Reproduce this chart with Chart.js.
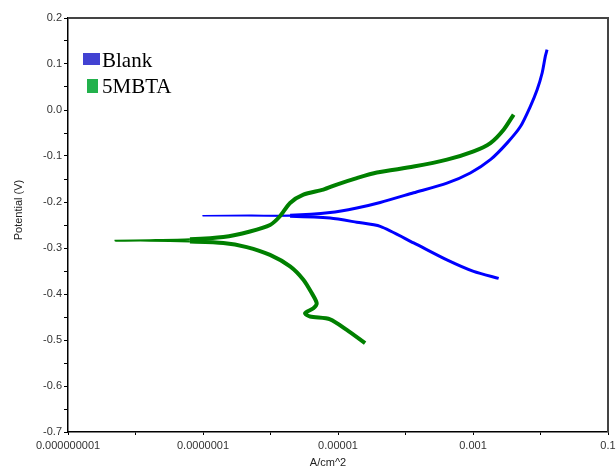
<!DOCTYPE html>
<html>
<head>
<meta charset="utf-8">
<script src="https://cdn.jsdelivr.net/npm/chart.js@4/dist/chart.umd.min.js"></script>
<style>
  html, body { margin: 0; padding: 0; background: #fff; }
  #wrap { width: 616px; height: 470px; position: relative; }
</style>
</head>
<body>
<div id="wrap"><canvas id="c" width="616" height="470"></canvas></div>
<script>
// Polarisation curves: current density (A/cm^2) vs potential (V)
const seriesNames = ['Blank', '5MBTA'];

// Blank: cathodic end -> corrosion potential -> anodic end
const blankCurrent = [2.40e-3, 1.02e-3, 4.11e-4, 1.32e-4, 4.22e-5, 1.90e-5, 7.64e-6, 1.95e-6, 4.0e-7, 1.0e-7,
                      4.97e-7, 1.95e-6, 7.64e-6, 1.90e-5, 4.22e-5, 1.32e-4, 4.11e-4, 9.12e-4, 1.81e-3, 3.19e-3,
                      5.04e-3, 7.08e-3, 8.91e-3, 1.06e-2, 1.18e-2, 1.25e-2];
const blankPotential = [-0.366, -0.351, -0.326, -0.289, -0.253, -0.244, -0.235, -0.231, -0.230, -0.230,
                        -0.229, -0.229, -0.223, -0.213, -0.201, -0.180, -0.159, -0.137, -0.108, -0.072,
                        -0.036, 0.008, 0.044, 0.081, 0.117, 0.131];

// 5MBTA: cathodic end -> corrosion potential -> anodic end
const mbtaCurrent = [2.52e-5, 1.35e-5, 7.64e-6, 3.85e-6, 3.25e-6, 4.32e-6, 4.84e-6, 4.08e-6, 3.07e-6, 1.95e-6,
                     9.84e-7, 4.44e-7, 2.00e-7, 6.40e-8, 1.63e-8, 5.05e-9, 1.63e-8, 6.40e-8, 2.00e-7, 4.97e-7,
                     9.84e-7, 1.38e-6, 1.95e-6, 3.07e-6, 6.07e-6, 9.59e-6, 1.90e-5, 3.77e-5, 1.32e-4, 4.11e-4,
                     1.02e-3, 1.81e-3, 2.84e-3, 4.00e-3];
const mbtaPotential = [-0.507, -0.478, -0.455, -0.449, -0.442, -0.431, -0.420, -0.398, -0.369, -0.340,
                       -0.315, -0.298, -0.289, -0.286, -0.284, -0.284, -0.283, -0.281, -0.276, -0.264,
                       -0.250, -0.231, -0.202, -0.184, -0.173, -0.162, -0.148, -0.136, -0.123, -0.108,
                       -0.090, -0.072, -0.043, -0.010];

// Axis ticks
const xTickValues = [1e-9, 1e-8, 1e-7, 1e-6, 1e-5, 1e-4, 1e-3, 1e-2, 1e-1];
const xTickLabels = ['0.000000001', '', '0.0000001', '', '0.00001', '', '0.001', '', '0.1'];
const yTickValues = [-0.7, -0.65, -0.6, -0.55, -0.5, -0.45, -0.4, -0.35, -0.3, -0.25, -0.2, -0.15, -0.1, -0.05, 0, 0.05, 0.1, 0.15, 0.2];
const yTickLabels = ['-0.7', '', '-0.6', '', '-0.5', '', '-0.4', '', '-0.3', '', '-0.2', '', '-0.1', '', '0.0', '', '0.1', '', '0.2'];

const xTitle = 'A/cm^2';
const yTitle = 'Potential (V)';

const toPoints = (xs, ys) => xs.map((x, i) => ({ x: x, y: ys[i] }));

// thin line where the trace hugs the corrosion potential
const thinBelow = (limit, thin, thick) => ctx =>
  (ctx.p0.parsed.x < limit && ctx.p1.parsed.x < limit) ? thin : thick;

const frameAndText = {
  id: 'frameAndText',
  afterDraw(chart) {
    const { ctx, chartArea: a } = chart;
    ctx.save();
    // top and right frame
    ctx.strokeStyle = '#444';
    ctx.lineWidth = 2;
    ctx.beginPath();
    ctx.moveTo(a.left, a.top);
    ctx.lineTo(a.right, a.top);
    ctx.lineTo(a.right, a.bottom);
    ctx.stroke();

    // axis titles
    ctx.fillStyle = '#222';
    ctx.font = '11px "Liberation Sans", Arial, sans-serif';
    ctx.textAlign = 'center';
    ctx.textBaseline = 'middle';
    ctx.fillText(xTitle, 328, 463);
    ctx.save();
    ctx.translate(19, 210);
    ctx.rotate(-Math.PI / 2);
    ctx.fillText(yTitle, 0, 0);
    ctx.restore();

    // legend
    const boxColors = ['#4242d2', '#22b14c'];
    const boxes = [[83, 53, 17, 12], [87, 79, 11, 14]];
    const baselines = [67, 92.5];
    ctx.font = '21px "Liberation Serif", "Times New Roman", serif';
    ctx.textAlign = 'left';
    ctx.textBaseline = 'alphabetic';
    seriesNames.forEach((name, i) => {
      ctx.fillStyle = boxColors[i];
      ctx.fillRect(...boxes[i]);
      ctx.fillStyle = '#000';
      ctx.fillText(name, 102, baselines[i]);
    });
    ctx.restore();
  }
};

new Chart(document.getElementById('c'), {
  type: 'line',
  data: {
    datasets: [
      {
        label: seriesNames[1],
        data: toPoints(mbtaCurrent, mbtaPotential),
        borderColor: '#008000',
        borderWidth: 4,
        pointRadius: 0,
        tension: 0.25,
        segment: { borderWidth: thinBelow(1.5e-7, 2, 4) }
      },
      {
        label: seriesNames[0],
        data: toPoints(blankCurrent, blankPotential),
        borderColor: '#0000ff',
        borderWidth: 3,
        pointRadius: 0,
        tension: 0.25,
        segment: { borderWidth: thinBelow(2.5e-6, 1.5, 3) }
      }
    ]
  },
  options: {
    responsive: false,
    animation: false,
    layout: { padding: { top: 18, right: 8, left: 0, bottom: 0 } },
    plugins: { legend: { display: false }, tooltip: { enabled: false } },
    scales: {
      x: {
        type: 'logarithmic',
        min: 1e-9,
        max: 1e-1,
        afterBuildTicks: s => { s.ticks = xTickValues.map(v => ({ value: v })); },
        afterFit: s => { s.height = 38; s.paddingRight = 0; s.paddingLeft = 0; },
        grid: { drawOnChartArea: false, drawTicks: true, tickLength: 3, tickColor: '#000' },
        border: { display: true, color: '#000', width: 1.5 },
        ticks: {
          autoSkip: false,
          maxRotation: 0,
          padding: 4,
          color: '#333',
          font: { family: '"Liberation Sans", Arial, sans-serif', size: 11 },
          callback: (v, i) => xTickLabels[i]
        }
      },
      y: {
        type: 'linear',
        min: -0.7,
        max: 0.2,
        afterBuildTicks: s => { s.ticks = yTickValues.map(v => ({ value: v })); },
        afterFit: s => { s.width = 68; },
        grid: { drawOnChartArea: false, drawTicks: true, tickLength: 4, tickColor: '#000' },
        border: { display: true, color: '#000', width: 1.5 },
        ticks: {
          autoSkip: false,
          padding: 2,
          color: '#333',
          font: { family: '"Liberation Sans", Arial, sans-serif', size: 11 },
          callback: (v, i) => yTickLabels[i]
        }
      }
    }
  },
  plugins: [frameAndText]
});
</script>
</body>
</html>
